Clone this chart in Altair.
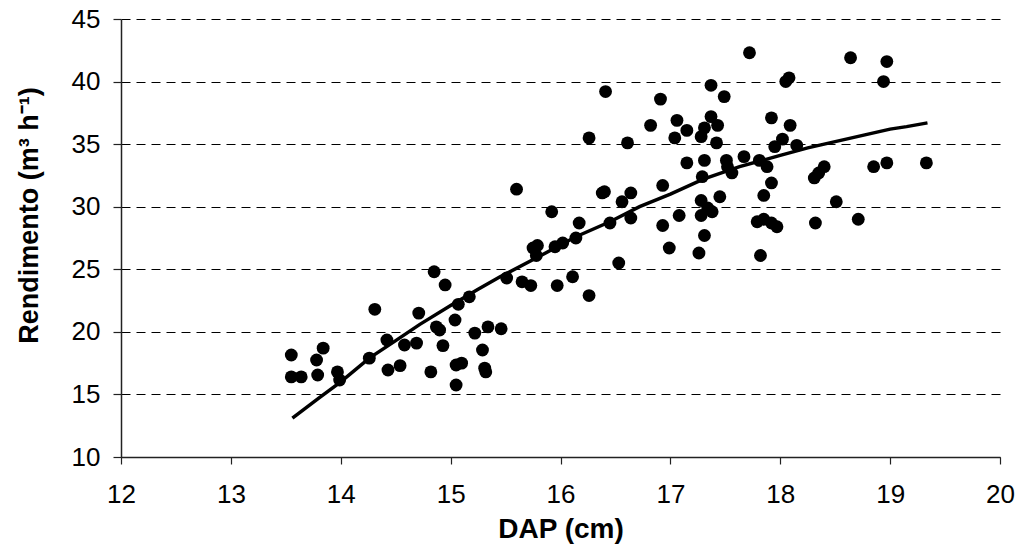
import altair as alt
import pandas as pd

# Scatter data: DAP (cm) and Rendimento (m3 h-1)
dap = [13.55, 13.55, 13.64, 13.79, 13.78, 13.84, 13.97, 13.99, 14.31, 14.26,
       14.43, 14.54, 14.42, 14.58, 14.69, 14.71, 14.82, 14.87, 14.90, 14.93,
       15.05, 15.10, 15.05, 15.04, 15.07, 15.22, 15.29, 15.31, 15.32, 15.34,
       15.46, 14.95, 15.17, 14.85,
       15.60, 15.92, 15.75, 15.79, 15.78, 15.95, 16.02, 16.14, 16.17, 16.45,
       16.38, 16.40, 16.56, 16.64, 16.64, 15.51, 15.65, 15.73, 15.97, 16.11,
       16.26, 16.53, 16.26, 16.41, 16.61,
       16.91, 16.82, 17.06, 17.15, 17.04, 17.37, 17.49, 17.37, 17.43, 17.31,
       17.28, 17.42, 17.15, 17.31, 17.51, 17.52, 17.56, 17.67, 17.29, 16.93,
       17.28, 17.45, 17.34, 17.38, 17.28, 17.08, 16.93, 17.31, 16.99, 17.26,
       17.72,
       17.92, 18.08, 18.05, 18.09, 18.02, 17.95, 18.15, 17.81, 17.88, 17.92,
       17.85, 17.79, 17.85, 17.92, 17.97, 17.82, 18.32, 18.31, 18.35, 18.40,
       18.51, 18.71, 18.64, 18.97, 18.94, 19.33, 18.97, 18.85]
rend = [18.15, 16.4, 16.4, 16.55, 17.75, 18.7, 16.8, 16.15, 21.8, 17.9,
        16.95, 17.3, 19.35, 18.95, 19.1, 21.5, 16.8, 20.4, 20.15, 18.9,
        17.35, 17.5, 15.75, 20.95, 22.2, 19.9, 18.55, 17.1, 16.8, 20.4,
        20.25, 23.75, 22.8, 24.8,
        31.4, 29.6, 26.7, 26.9, 26.1, 26.8, 27.1, 27.5, 28.7, 28.7,
        31.1, 31.2, 30.4, 31.1, 29.1, 24.3, 24.0, 23.7, 23.7, 24.4,
        22.9, 25.5, 35.5, 39.2, 35.1,
        38.6, 36.5, 36.9, 36.1, 35.5, 39.7, 38.8, 37.2, 36.5, 36.3,
        35.6, 35.1, 33.5, 33.7, 33.7, 33.2, 32.7, 34.0, 32.4, 31.7,
        30.5, 30.8, 29.9, 29.6, 29.3, 29.3, 28.5, 27.7, 26.7, 26.3,
        42.3,
        37.1, 40.3, 40.0, 36.5, 35.4, 34.8, 34.9, 33.7, 33.2, 31.9,
        30.9, 28.8, 29.0, 28.7, 28.4, 26.1, 28.7, 32.3, 32.7, 33.2,
        30.4, 29.0, 41.9, 41.6, 40.0, 33.5, 33.5, 33.2]

# Fitted curve
fit_dap = [13.56, 13.8, 14.0, 14.26, 14.5, 14.72, 15.0, 15.25, 15.45, 15.8,
           16.14, 16.45, 16.72, 17.0, 17.3, 17.63, 18.0, 18.25, 18.5, 18.75,
           19.0, 19.15, 19.34]
fit_rend = [13.1, 14.7, 16.0, 17.9, 19.3, 20.6, 22.1, 23.4, 24.4, 26.0,
            27.6, 28.8, 30.0, 31.0, 32.2, 33.2, 34.1, 34.7, 35.2, 35.7,
            36.2, 36.4, 36.7]

x_ticks = [12, 13, 14, 15, 16, 17, 18, 19, 20]
y_ticks = [10, 15, 20, 25, 30, 35, 40, 45]

pts = pd.DataFrame({"DAP": dap, "Rend": rend})
fit = pd.DataFrame({"DAP": fit_dap, "Rend": fit_rend})

FONT = "Liberation Sans"

x_enc = alt.X(
    "DAP:Q",
    scale=alt.Scale(domain=[12, 20], nice=False, zero=False),
    axis=alt.Axis(
        values=x_ticks, format="d", title="DAP (cm)", grid=False,
        domainColor="#222222", domainWidth=1.5,
        tickColor="#222222", tickWidth=1.2, tickSize=7,
        labelFont=FONT, labelFontSize=26, labelColor="black", labelPadding=17,
        labelFlush=False,
        titleFont=FONT, titleFontSize=28, titleFontWeight="bold", titleColor="black",
        titleBaseline="alphabetic", titleY=80,
    ),
)
y_enc = alt.Y(
    "Rend:Q",
    scale=alt.Scale(domain=[10, 45], nice=False, zero=False),
    axis=alt.Axis(
        values=y_ticks, format="d", title="Rendimento (m³ h⁻¹)",
        grid=True, gridColor="black", gridDash=[9, 6], gridWidth=1.2,
        domainColor="#222222", domainWidth=1.5,
        tickColor="#222222", tickWidth=1.2, tickSize=8,
        labelFont=FONT, labelFontSize=26, labelColor="black", labelPadding=13,
        labelFlush=False,
        titleFont=FONT, titleFontSize=27, titleFontWeight="bold", titleColor="black",
        titleAngle=-90, titleAlign="center", titleBaseline="alphabetic",
        titleX=-84, titleY=196,
    ),
)

points = alt.Chart(pts).mark_circle(size=165, color="black", opacity=1).encode(
    x=x_enc, y=y_enc
)
line = alt.Chart(fit).mark_line(color="black", strokeWidth=3.5).encode(
    x="DAP:Q", y="Rend:Q"
)

chart = (
    alt.layer(points, line)
    .properties(
        width=879,
        height=438,
        autosize=alt.AutoSizeParams(type="none"),
        padding={"left": 121, "top": 19, "right": 18, "bottom": 90},
        background="white",
    )
    .configure_view(stroke=None)
)

chart.save("out.html", embed_options={"renderer": "svg", "actions": False})
